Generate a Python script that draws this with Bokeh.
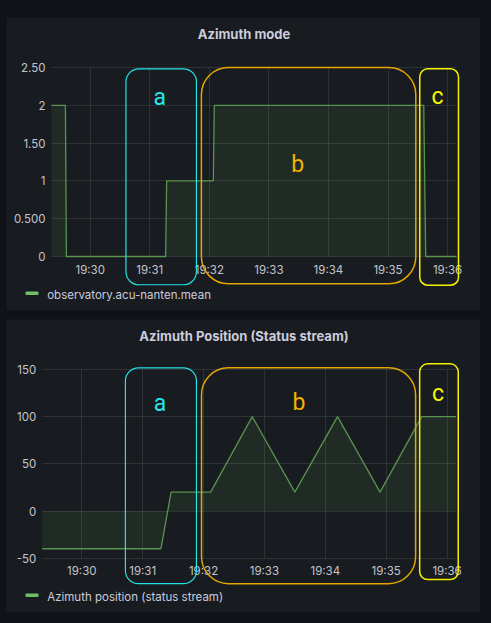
import pandas as pd
from bokeh.plotting import figure
from bokeh.models import (ColumnDataSource, Range1d, FixedTicker, DatetimeTickFormatter,
                          BoxAnnotation, Label, Spacer)
from bokeh.layouts import column, row
from bokeh.core.properties import value
from bokeh.embed import file_html
from bokeh.resources import INLINE

DAY = "2022-11-01 "

# ---- shared time window & ticks ----
time_window = ["19:29:21", "19:36:09"]
x_tick_labels = ["19:30", "19:31", "19:32", "19:33", "19:34", "19:35", "19:36"]

# ---- panel 1: Azimuth mode ----
mode_title = "Azimuth mode"
mode_series = "observatory.acu-nanten.mean"
mode_times = ["19:29:21", "19:29:35", "19:29:36", "19:31:16", "19:31:17",
              "19:32:04", "19:32:05", "19:35:36", "19:35:38", "19:36:09"]
mode_values = [2, 2, 0, 0, 1, 1, 2, 2, 0, 0]
mode_y_range = [0, 2.5]
mode_y_ticks = [0, 0.5, 1, 1.5, 2, 2.5]
mode_y_tick_labels = ["0", "0.500", "1", "1.50", "2", "2.50"]

# ---- panel 2: Azimuth position ----
pos_title = "Azimuth Position (Status stream)"
pos_series = "Azimuth position (status stream)"
pos_times = ["19:29:21", "19:31:18", "19:31:28", "19:32:07", "19:32:48",
             "19:33:30", "19:34:12", "19:34:54", "19:35:35", "19:36:09"]
pos_values = [-40, -40, 20, 20, 100, 20, 100, 20, 100, 100]
pos_y_range = [-50, 150]
pos_y_ticks = [-50, 0, 50, 100, 150]
pos_y_tick_labels = ["-50", "0", "50", "100", "150"]

# ---- highlighted regions (a, b, c) ----
region_names = ["a", "b", "c"]
mode_region_start = ["19:30:36", "19:31:52", "19:35:32"]
mode_region_end = ["19:31:47", "19:35:28", "19:36:11"]
mode_region_low = [-0.374, -0.361, -0.380]
mode_region_high = [2.483, 2.5, 2.483]
mode_letter_time = ["19:31:10", "19:33:29", "19:35:50"]
mode_letter_value = [2.10, 1.22, 2.11]

pos_region_start = ["19:30:43", "19:31:58", "19:35:33"]
pos_region_end = ["19:31:53", "19:35:29", "19:36:11"]
pos_region_low = [-77.0, -77.0, -72.6]
pos_region_high = [151.8, 151.8, 156.0]
pos_letter_time = ["19:31:17", "19:33:34", "19:35:51"]
pos_letter_value = [114.3, 115.5, 124.9]

# ---- styles / geometry (pixels) ----
PAGE_BG = "#111217"
PANEL_BG = "#181b1f"
TEXT = "#ccccdc"
TICK_TEXT = "#c3c5cd"
LINE = "#58944f"
FILL = "#73bf69"
region_colors = ["#22e4e6", "#e2a700", "#f2f200"]
letter_colors = ["#22e6e8", "#f5b300", "#f5f500"]
region_widths = [1.2, 1.5, 1.5]
region_radius = [13, 27, 8]
PW, PH = 474, 293            # panel size
# data-window edges inside each panel: left, right, top, bottom (px from panel top-left)
mode_geom = (45.0, 450.0, 50.0, 239.0)
pos_geom = (35.7, 449.7, 50.0, 238.7)


def ts(s):
    return pd.Timestamp(DAY + s)


def ms(s):
    return ts(s).value / 1e6


def make_panel(title, series, times, values, y_range, y_ticks, y_labels, geom,
               r_start, r_end, r_low, r_high, l_time, l_value):
    gl, gr, gt, gb = geom
    t0, t1 = ms(time_window[0]), ms(time_window[1])
    kx = (t1 - t0) / (gr - gl)
    ky = (y_range[1] - y_range[0]) / (gb - gt)
    xr = Range1d(t0 - gl * kx, t1 + (PW - gr) * kx)
    yr = Range1d(y_range[0] - (PH - gb) * ky, y_range[1] + gt * ky)

    p = figure(width=PW, height=PH, x_axis_type="datetime", x_range=xr, y_range=yr,
               output_backend="svg", toolbar_location=None,
               min_border_left=0, min_border_right=0, min_border_top=0, min_border_bottom=0)
    p.background_fill_color = PANEL_BG
    p.border_fill_color = PANEL_BG
    p.outline_line_color = None

    xt = FixedTicker(ticks=[ms(t + ":00") for t in x_tick_labels])
    yt = FixedTicker(ticks=y_ticks)
    p.xaxis.ticker = xt
    p.yaxis.ticker = yt
    fmt = "%H:%M"
    p.xaxis.formatter = DatetimeTickFormatter(seconds=fmt, minsec=fmt, minutes=fmt,
                                              hourmin=fmt, hours=fmt)
    p.yaxis.major_label_overrides = {t: l for t, l in zip(y_ticks, y_labels)}
    p.xaxis.fixed_location = y_range[0]
    p.yaxis.fixed_location = t0
    for ax in (p.xaxis[0], p.yaxis[0]):
        ax.axis_line_color = None
        ax.major_tick_line_color = None
        ax.minor_tick_line_color = None
        ax.major_tick_out = 0
        ax.major_tick_in = 0
        ax.major_label_text_color = TICK_TEXT
        ax.major_label_text_font = "Inter"
        ax.major_label_text_font_size = "11.5px"
        ax.major_label_standoff = 6
    p.xgrid.ticker = xt
    p.ygrid.ticker = yt
    for g in (p.xgrid[0], p.ygrid[0]):
        g.grid_line_color = "#ffffff"
        g.grid_line_alpha = 0.1
    try:
        p.xgrid[0].cross_bounds = (y_range[0], y_range[1])
        p.ygrid[0].cross_bounds = (t0, t1)
    except Exception:
        p.xgrid[0].visible = False
        p.ygrid[0].visible = False
        gsrc_v = ColumnDataSource(dict(x=xt.ticks, y0=[y_range[0]] * len(xt.ticks),
                                       y1=[y_range[1]] * len(xt.ticks)))
        p.segment(x0="x", x1="x", y0="y0", y1="y1", source=gsrc_v,
                  line_color="#ffffff", line_alpha=0.1)
        gsrc_h = ColumnDataSource(dict(y=y_ticks, x0=[t0] * len(y_ticks), x1=[t1] * len(y_ticks)))
        p.segment(x0="x0", x1="x1", y0="y", y1="y", source=gsrc_h,
                  line_color="#ffffff", line_alpha=0.1)

    src = ColumnDataSource(dict(t=[ts(t) for t in times], v=values))
    p.varea(x="t", y1=0, y2="v", source=src, fill_color=FILL, fill_alpha=0.1)
    p.line(x="t", y="v", source=src, line_color=LINE, line_width=1.3)

    for i in range(3):
        p.add_layout(BoxAnnotation(left=ms(r_start[i]), right=ms(r_end[i]),
                                   bottom=r_low[i], top=r_high[i],
                                   fill_alpha=0, fill_color=None,
                                   line_color=region_colors[i], line_alpha=1,
                                   line_width=region_widths[i],
                                   border_radius=region_radius[i]))
    lsrc = ColumnDataSource(dict(t=[ts(t) for t in l_time], v=l_value,
                                 name=region_names, c=letter_colors))
    p.text(x="t", y="v", text="name", source=lsrc, text_color="c",
           text_font=value("Roboto"), text_font_size="23px",
           text_align="center", text_baseline="alphabetic")

    # panel title & legend (screen px, measured from the panel's bottom-left)
    p.add_layout(Label(x=237.5, y=PH - 16, x_units="screen", y_units="screen", text=title,
                       text_align="center", text_baseline="alphabetic",
                       text_font="Inter", text_font_style="bold",
                       text_font_size="13px", text_color=TEXT))
    p.add_layout(BoxAnnotation(left=19, right=32, bottom=15.5, top=19,
                               left_units="screen", right_units="screen",
                               bottom_units="screen", top_units="screen",
                               fill_color=FILL, fill_alpha=1, line_color=None,
                               border_radius=1))
    p.add_layout(Label(x=40.7, y=15.5, x_units="screen", y_units="screen",
                       text=series, text_align="left", text_baseline="alphabetic",
                       text_font="Inter", text_font_size="11.5px", text_color=TEXT))
    return p


p1 = make_panel(mode_title, mode_series, mode_times, mode_values, mode_y_range,
                mode_y_ticks, mode_y_tick_labels, mode_geom,
                mode_region_start, mode_region_end, mode_region_low, mode_region_high,
                mode_letter_time, mode_letter_value)
p2 = make_panel(pos_title, pos_series, pos_times, pos_values, pos_y_range,
                pos_y_ticks, pos_y_tick_labels, pos_geom,
                pos_region_start, pos_region_end, pos_region_low, pos_region_high,
                pos_letter_time, pos_letter_value)

layout = column(Spacer(width=480, height=17),
                row(Spacer(width=6, height=PH), p1, spacing=0),
                Spacer(width=480, height=9),
                row(Spacer(width=6, height=PH), p2, spacing=0),
                spacing=0)

html = file_html(layout, INLINE, title="Azimuth")
html = html.replace("</head>", "<style>html,body{background:%s;}</style></head>" % PAGE_BG, 1)
open("out.html", "w").write(html)
